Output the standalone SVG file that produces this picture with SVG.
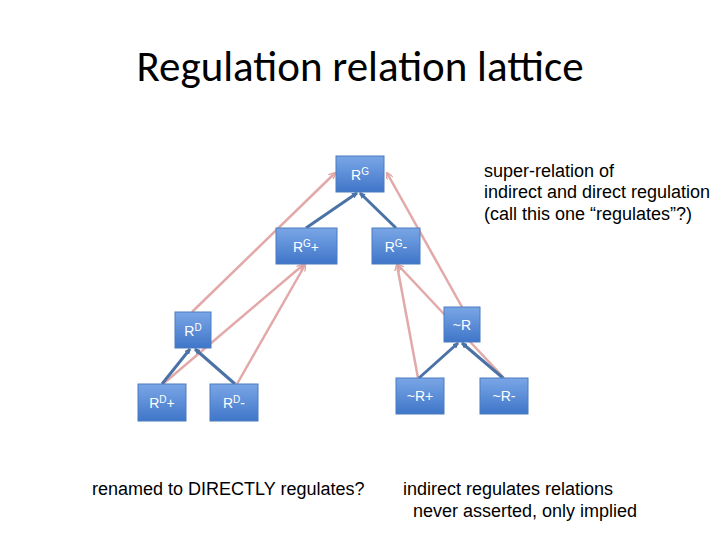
<svg xmlns="http://www.w3.org/2000/svg" width="720" height="540" viewBox="0 0 720 540">
<defs>
<linearGradient id="g" x1="0" y1="0" x2="0" y2="1"><stop offset="0" stop-color="#7aa6e6"/><stop offset="1" stop-color="#3f76c9"/></linearGradient>
<marker id="ab" markerWidth="6" markerHeight="6" refX="5" refY="3" orient="auto" markerUnits="userSpaceOnUse"><path d="M0,0 L6,3 L0,6 Z" fill="#4a72a6"/></marker>
<marker id="ap" markerWidth="7" markerHeight="7" refX="6" refY="3.5" orient="auto" markerUnits="userSpaceOnUse"><path d="M0,0 L7,3.5 L0,7" fill="none" stroke="#e0a0a0" stroke-width="1.5"/></marker>
</defs>
<style>
.n rect{fill:url(#g);stroke:#4a7cc0;stroke-width:1}
.n text{fill:#fff;font-family:"Liberation Sans",Arial,sans-serif;font-size:14px;text-anchor:middle}
.b{stroke:#4a72a6;stroke-width:3;fill:none;marker-end:url(#ab)}
.p{stroke:#e0a0a0;stroke-width:2.5;fill:none;marker-end:url(#ap);opacity:.9}
.t{font-family:"Liberation Sans",Arial,sans-serif;font-size:18px;fill:#000}
</style>
<rect width="720" height="540" fill="#fff"/>
<text x="360" y="81" text-anchor="middle" font-family="Calibri,Carlito,'Open Sans',sans-serif" font-size="43" fill="#000">Regulation relation lattice</text>
<g id="connectors">
<line class="p" x1="192" y1="312" x2="335" y2="173"/>
<line class="p" x1="163" y1="384" x2="303" y2="265"/>
<line class="p" x1="237" y1="384" x2="305" y2="265"/>
<line class="p" x1="462" y1="307" x2="387" y2="173"/>
<line class="p" x1="418" y1="378" x2="397" y2="265"/>
<line class="p" x1="504" y1="378" x2="398" y2="265"/>
<line class="b" x1="306" y1="228" x2="357" y2="193"/>
<line class="b" x1="396" y1="228" x2="360" y2="193"/>
<line class="b" x1="162" y1="384" x2="190" y2="349"/>
<line class="b" x1="235" y1="384" x2="195" y2="349"/>
<line class="b" x1="419" y1="378" x2="458" y2="343"/>
<line class="b" x1="503" y1="378" x2="462" y2="343"/>
</g>
<g id="RG" class="n"><rect x="336" y="156" width="48" height="36"/><text x="360" y="180">R<tspan font-size="10" dy="-5">G</tspan></text></g>
<g id="RGplus" class="n"><rect x="276" y="228" width="61" height="36"/><text x="306" y="252">R<tspan font-size="10" dy="-5">G</tspan><tspan dy="5">+</tspan></text></g>
<g id="RGminus" class="n"><rect x="372" y="228" width="48" height="36"/><text x="396" y="252">R<tspan font-size="10" dy="-5">G</tspan><tspan dy="5">-</tspan></text></g>
<g id="RD" class="n"><rect x="175" y="312" width="36" height="36"/><text x="193" y="336">R<tspan font-size="10" dy="-5">D</tspan></text></g>
<g id="RDplus" class="n"><rect x="138" y="384" width="48" height="37"/><text x="162" y="408">R<tspan font-size="10" dy="-5">D</tspan><tspan dy="5">+</tspan></text></g>
<g id="RDminus" class="n"><rect x="210" y="384" width="48" height="37"/><text x="234" y="408">R<tspan font-size="10" dy="-5">D</tspan><tspan dy="5">-</tspan></text></g>
<g id="nR" class="n"><rect x="444" y="307" width="36" height="35"/><text x="462" y="330">~R</text></g>
<g id="nRplus" class="n"><rect x="396" y="378" width="48" height="36"/><text x="420" y="401">~R+</text></g>
<g id="nRminus" class="n"><rect x="480" y="378" width="48" height="36"/><text x="504" y="401">~R-</text></g>
<text class="t" x="484" y="177">super-relation of</text>
<text class="t" x="484" y="198">indirect and direct regulation</text>
<text class="t" x="484" y="220">(call this one “regulates”?)</text>
<text class="t" x="92" y="495">renamed to DIRECTLY regulates?</text>
<text class="t" x="403" y="495">indirect regulates relations</text>
<text class="t" x="413" y="517">never asserted, only implied</text>
</svg>
